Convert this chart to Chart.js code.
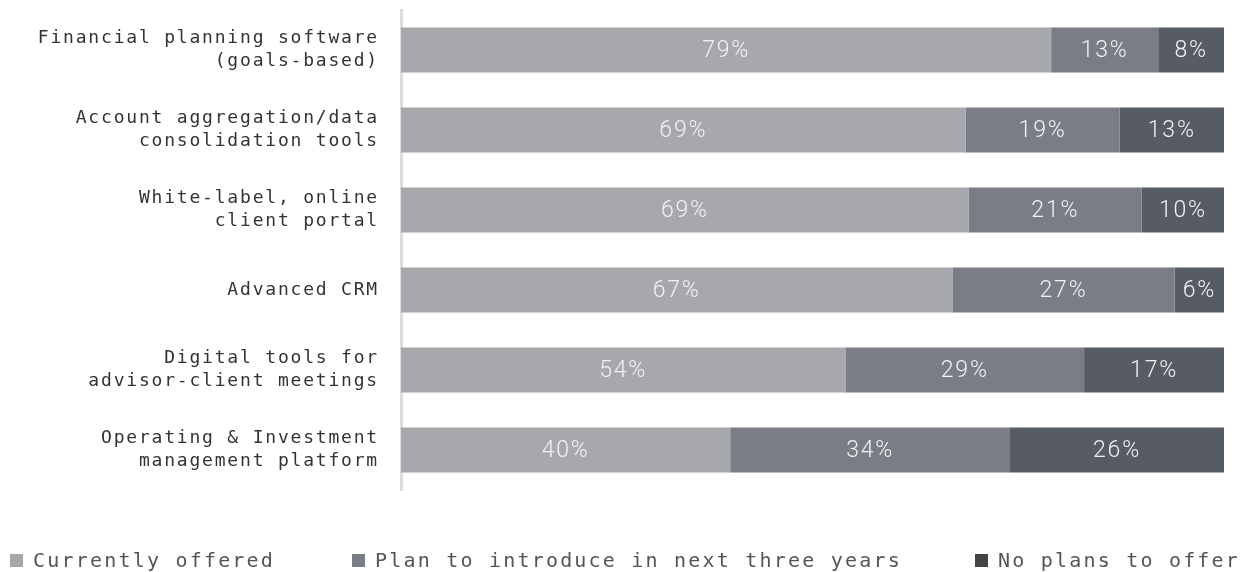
<!DOCTYPE html>
<html>
<head>
<meta charset="utf-8">
<script src="https://cdn.jsdelivr.net/npm/chart.js@4"></script>
<style>
  html, body { margin: 0; padding: 0; background: #fff; }
  #wrap { position: relative; width: 1250px; height: 572px; }
  #legend { position: absolute; left: 0; top: 549px; width: 1250px; height: 22px;
    font-family: "DejaVu Sans Mono", monospace; font-size: 20px; letter-spacing: 2.2px; color: #555; }
  #legend span.item { position: absolute; top: 0; white-space: nowrap; line-height: 22px; }
  #legend i { display: inline-block; width: 13px; height: 13px; margin-right: 10px; vertical-align: 0px; }
</style>
</head>
<body>
<div id="wrap">
  <canvas id="chart" width="1250" height="572"></canvas>
  <div id="legend"></div>
</div>
<script>
const categories = [
  ['Financial planning software', '(goals-based)'],
  ['Account aggregation/data', 'consolidation tools'],
  ['White-label, online', 'client portal'],
  'Advanced CRM',
  ['Digital tools for', 'advisor-client meetings'],
  ['Operating & Investment', 'management platform']
]
const seriesNames = ['Currently offered', 'Plan to introduce in next three years', 'No plans to offer']
const currentlyOffered = [79, 68.6, 69, 67, 54, 40]
const planToIntroduce = [13, 18.7, 21, 27, 29, 34]
const noPlans = [8, 12.7, 10, 6, 17, 26]
const barColors = ['#a7a8ac', '#7a7d85', '#575b63']
const legendColors = ['#a7a8ac', '#7a7d85', '#444446']
const legendX = [10, 352, 975]

const valueLabels = {
  id: 'valueLabels',
  afterDatasetsDraw(chart) {
    const ctx = chart.ctx
    ctx.save()
    ctx.font = '300 23px Roboto'
    ctx.fillStyle = '#f2f2f2'
    ctx.textAlign = 'center'
    ctx.textBaseline = 'middle'
    chart.data.datasets.forEach((ds, i) => {
      chart.getDatasetMeta(i).data.forEach((bar, j) => {
        const x = (bar.x + bar.base) / 2
        ctx.fillText(Math.round(ds.data[j]) + '%', x, bar.y + 1)
      })
    })
    ctx.restore()
  }
}

const spacing = {
  id: 'spacing',
  beforeDraw(chart) { chart.ctx.letterSpacing = '1.8px' },
  afterDraw(chart) { chart.ctx.letterSpacing = '0px' }
}

new Chart(document.getElementById('chart'), {
  type: 'bar',
  data: {
    labels: categories,
    datasets: [
      { label: seriesNames[0], data: currentlyOffered, backgroundColor: barColors[0] },
      { label: seriesNames[1], data: planToIntroduce, backgroundColor: barColors[1] },
      { label: seriesNames[2], data: noPlans, backgroundColor: barColors[2] }
    ]
  },
  options: {
    indexAxis: 'y',
    responsive: false,
    animation: false,
    events: [],
    barPercentage: 0.5625,
    categoryPercentage: 1,
    layout: { padding: { top: 10, bottom: 82, left: 0, right: 26 } },
    plugins: { legend: { display: false }, tooltip: { enabled: false } },
    scales: {
      x: { stacked: true, min: 0, max: 100, display: false },
      y: {
        stacked: true,
        grid: { display: false },
        border: { display: true, color: '#dcdcdc', width: 3 },
        afterFit: (scale) => {
          scale.width = 401
          scale.paddingTop = 0
          scale.paddingBottom = 0
        },
        ticks: {
          padding: 14,
          color: '#333',
          font: { family: 'DejaVu Sans Mono', size: 18, lineHeight: 1.3 }
        }
      }
    }
  },
  plugins: [spacing, valueLabels]
})

const legend = document.getElementById('legend')
seriesNames.forEach((name, i) => {
  const item = document.createElement('span')
  item.className = 'item'
  item.style.left = legendX[i] + 'px'
  const box = document.createElement('i')
  box.style.background = legendColors[i]
  item.appendChild(box)
  item.appendChild(document.createTextNode(name))
  legend.appendChild(item)
})
</script>
</body>
</html>
